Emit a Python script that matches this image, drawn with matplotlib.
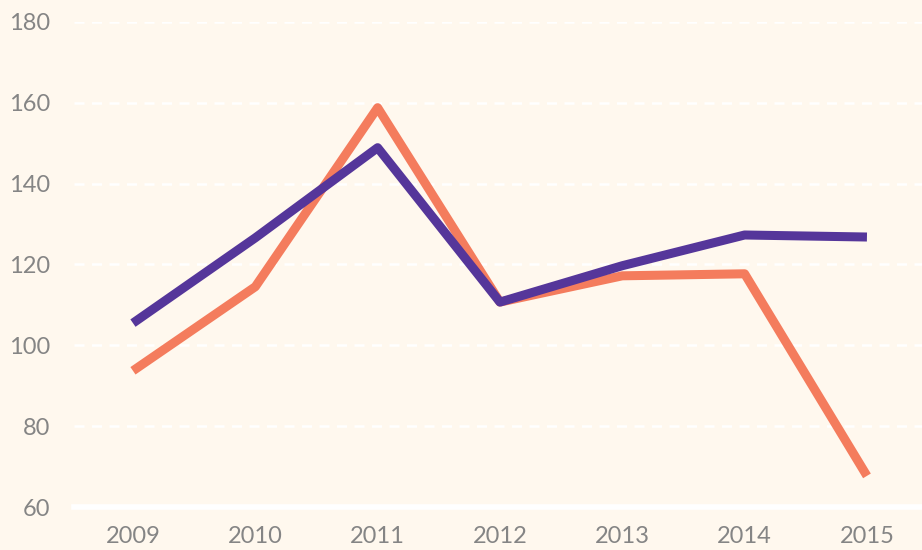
import matplotlib
matplotlib.use("Agg")
import matplotlib.pyplot as plt

years = [2009, 2010, 2011, 2012, 2013, 2014, 2015]
orange_vals = [93.7, 114.5, 158.8, 110.7, 117.2, 117.7, 67.7]
purple_vals = [105.5, 126.6, 148.9, 110.7, 119.7, 127.3, 126.8]
y_ticks = [60, 80, 100, 120, 140, 160, 180]

BG = "#FFF8EE"
ORANGE = "#F47C5D"
PURPLE = "#55369A"
TEXT = "#858585"

plt.rcParams["font.family"] = ["Lato", "DejaVu Sans"]

fig = plt.figure(figsize=(9.22, 5.5), dpi=100, facecolor=BG)
ax = fig.add_axes([74 / 922, 43 / 550, 848 / 922, 485 / 550], facecolor=BG)

ax.set_xlim(2008.518, 2015.45)
ax.set_ylim(60, 180)

for t in y_ticks[1:]:
    ax.axhline(t, color="white", lw=1.8, dashes=(4, 3), zorder=1)
ax.axhline(60, color="white", lw=4, zorder=1, clip_on=False)

ax.plot(years, orange_vals, color=ORANGE, lw=6.5, solid_joinstyle="round",
        solid_capstyle="butt", zorder=3, clip_on=False)
ax.plot(years, purple_vals, color=PURPLE, lw=6.5, solid_joinstyle="round",
        solid_capstyle="butt", zorder=4, clip_on=False)

for s in ax.spines.values():
    s.set_visible(False)

ax.set_yticks(y_ticks)
ax.set_xticks(years)
ax.set_xticklabels([str(y) for y in years])
ax.tick_params(length=0, labelsize=17, labelcolor=TEXT)
ax.tick_params(axis="y", pad=17)
ax.tick_params(axis="x", pad=14)

fig.savefig("out.png", dpi=100, facecolor=BG)
